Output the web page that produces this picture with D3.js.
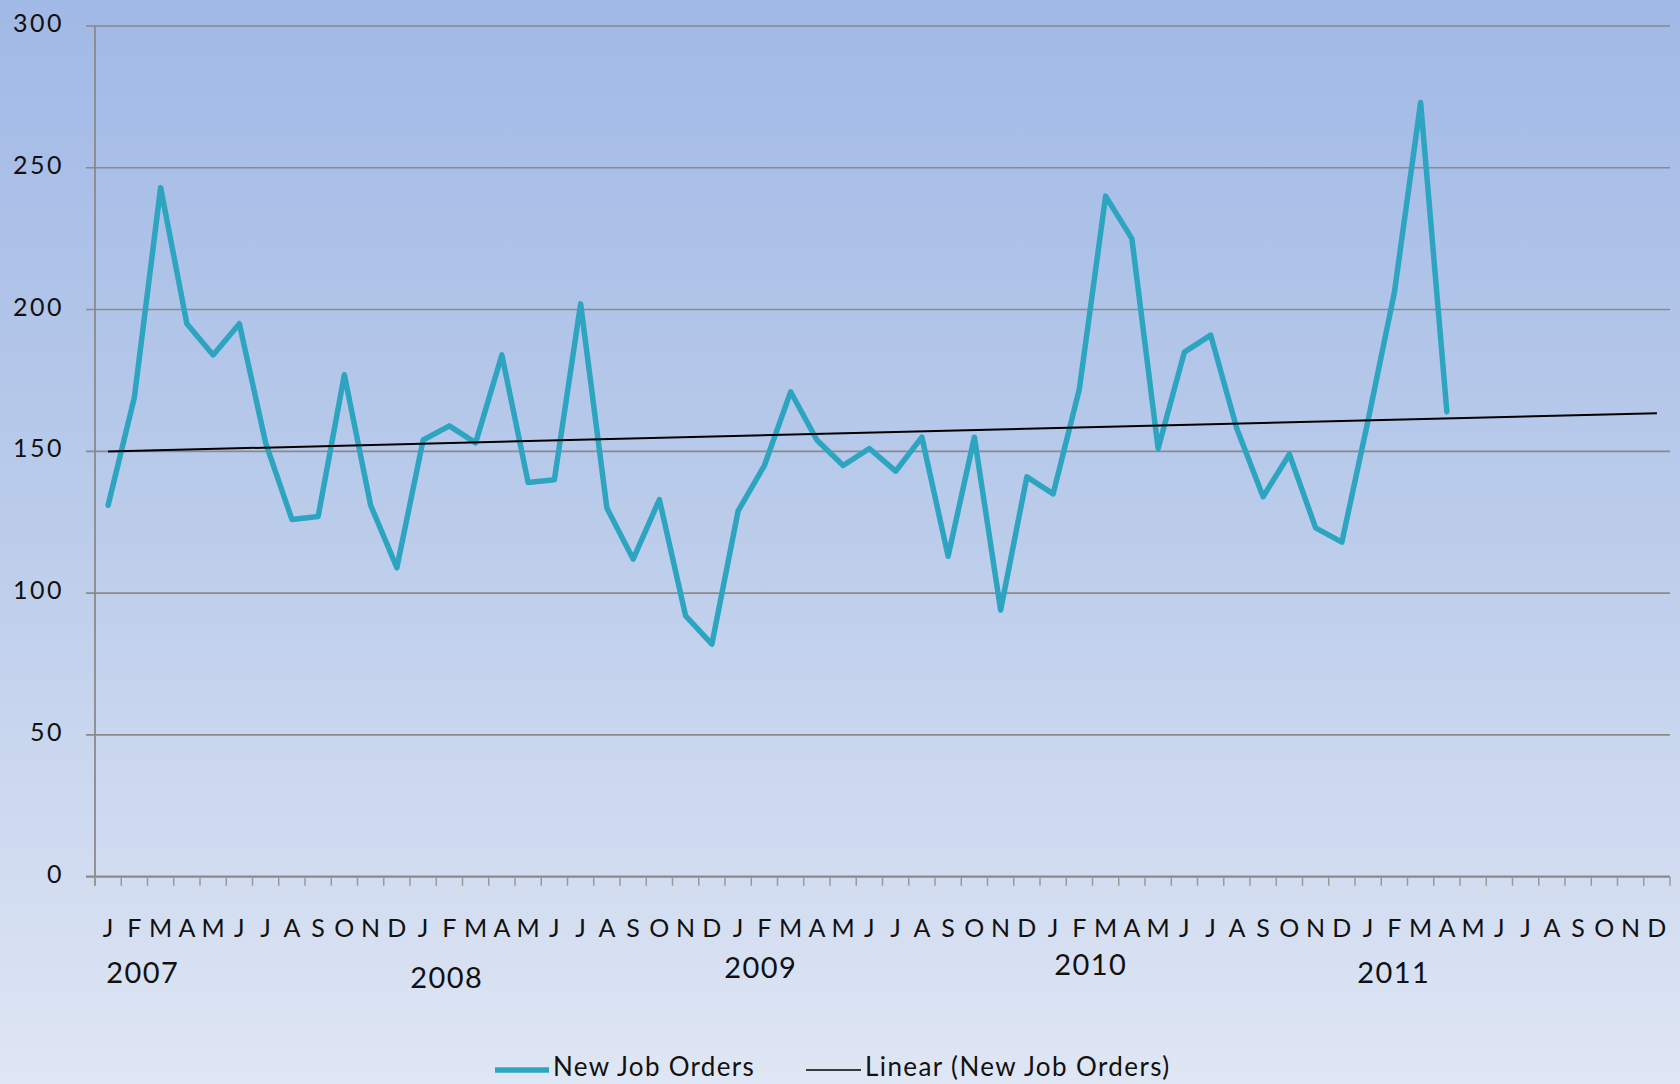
<!DOCTYPE html>
<html>
<head>
<meta charset="utf-8">
<script src="https://cdn.jsdelivr.net/npm/d3@7"></script>
<style>
  html, body { margin: 0; padding: 0; }
  svg { display: block; font-family: Lato, "Open Sans", sans-serif; }
</style>
</head>
<body>
<script>
// chart data
const monthLetters = ["J","F","M","A","M","J","J","A","S","O","N","D"];
const years = ["2007","2008","2009","2010","2011"];
const newJobOrders = [
  131,169,243,195,184,195,153,126,127,177,131,109,   // 2007
  154,159,153,184,139,140,202,130,112,133,92,82,     // 2008
  129,145,171,154,145,151,143,155,113,155,94,141,    // 2009
  135,172,240,225,151,185,191,158,134,149,123,118,   // 2010
  161,206,273,164                                    // 2011 (Jan-Apr)
];
const yTicks = [0, 50, 100, 150, 200, 250, 300];
const seriesName = "New Job Orders";
const trendName = "Linear (New Job Orders)";

// year labels sit a bit loose, like text boxes dropped by hand
const yearNudge = [[-2, 983], [-13, 988], [-14, 978], [1, 975], [-11, 983]];

const w = 1680;
const h = 1084;

const svg = d3.select("body")
  .append("svg")
  .attr("width", w)
  .attr("height", h);

// background gradient
const grad = svg.append("defs").append("linearGradient")
  .attr("id", "bg")
  .attr("x1", 0).attr("y1", 0).attr("x2", 0).attr("y2", 1);
grad.append("stop").attr("offset", "0%").attr("stop-color", "#a1b9e6");
grad.append("stop").attr("offset", "50%").attr("stop-color", "#bccdeb");
grad.append("stop").attr("offset", "100%").attr("stop-color", "#dfe6f4");
svg.append("rect").attr("width", w).attr("height", h).attr("fill", "url(#bg)");

const categories = d3.range(years.length * 12);

const x = d3.scaleBand()
  .domain(categories)
  .range([95, 1670]);

const y = d3.scaleLinear()
  .domain([0, 300])
  .range([876.7, 26]);

const cx = i => x(i) + x.bandwidth() / 2;

// horizontal gridlines + y labels
svg.selectAll("line.grid")
  .data(yTicks)
  .enter()
  .append("line")
  .attr("class", "grid")
  .attr("x1", 86)
  .attr("x2", 1670)
  .attr("y1", d => y(d))
  .attr("y2", d => y(d))
  .attr("stroke", "#8a8a8a")
  .attr("stroke-width", d => d === 0 ? 2.2 : 1.6);

svg.selectAll("text.ylab")
  .data(yTicks)
  .enter()
  .append("text")
  .attr("class", "ylab")
  .attr("x", 64)
  .attr("y", d => y(d) + 6)
  .attr("text-anchor", "end")
  .attr("font-size", "25px")
  .attr("letter-spacing", "2.5px")
  .attr("fill", "#111")
  .text(d => d);

// y axis line
svg.append("line")
  .attr("x1", 95).attr("x2", 95)
  .attr("y1", y(300)).attr("y2", y(0) + 9)
  .attr("stroke", "#8a8a8a")
  .attr("stroke-width", 1.8);

// x axis ticks at category boundaries
svg.selectAll("line.xtick")
  .data(d3.range(categories.length + 1))
  .enter()
  .append("line")
  .attr("class", "xtick")
  .attr("x1", d => x.range()[0] + d * x.bandwidth())
  .attr("x2", d => x.range()[0] + d * x.bandwidth())
  .attr("y1", y(0))
  .attr("y2", y(0) + 9)
  .attr("stroke", "#999")
  .attr("stroke-width", 1.5);

// month letters
svg.selectAll("text.month")
  .data(categories)
  .enter()
  .append("text")
  .attr("class", "month")
  .attr("x", d => cx(d))
  .attr("y", 937)
  .attr("text-anchor", "middle")
  .attr("font-size", "25px")
  .attr("fill", "#111")
  .text(d => monthLetters[d % 12]);

// year labels
svg.selectAll("text.year")
  .data(years)
  .enter()
  .append("text")
  .attr("class", "year")
  .attr("x", (d, i) => cx(i * 12) + yearNudge[i][0])
  .attr("y", (d, i) => yearNudge[i][1])
  .attr("font-size", "29px")
  .attr("letter-spacing", "1.5px")
  .attr("fill", "#111")
  .text(d => d);

// linear trend (least squares on the observed months, drawn across the axis)
const n = newJobOrders.length;
const mx = d3.mean(d3.range(n));
const my = d3.mean(newJobOrders);
const slope = d3.sum(newJobOrders, (v, i) => (i - mx) * (v - my)) /
              d3.sum(d3.range(n), i => (i - mx) * (i - mx));
const icept = my - slope * mx;
const trend = [0, categories.length - 1].map(i => [i, icept + slope * i]);

// series line
const line = d3.line()
  .x((d, i) => cx(i))
  .y(d => y(d));

svg.append("path")
  .datum(newJobOrders)
  .attr("d", line)
  .attr("fill", "none")
  .attr("stroke", "#2ea5c0")
  .attr("stroke-width", 5.5)
  .attr("stroke-linejoin", "round")
  .attr("stroke-linecap", "round");

svg.append("path")
  .datum(trend)
  .attr("d", d3.line().x(d => cx(d[0])).y(d => y(d[1])))
  .attr("fill", "none")
  .attr("stroke", "#000")
  .attr("stroke-width", 2);

// legend
const legend = svg.append("g");
legend.append("line")
  .attr("x1", 495).attr("x2", 549)
  .attr("y1", 1070).attr("y2", 1070)
  .attr("stroke", "#2ea5c0")
  .attr("stroke-width", 5.5);
legend.append("text")
  .attr("x", 553).attr("y", 1076)
  .attr("font-size", "26px")
  .attr("letter-spacing", "1.3px")
  .attr("fill", "#111")
  .text(seriesName);
legend.append("line")
  .attr("x1", 806).attr("x2", 861)
  .attr("y1", 1070).attr("y2", 1070)
  .attr("stroke", "#000")
  .attr("stroke-width", 1.5);
legend.append("text")
  .attr("x", 865).attr("y", 1076)
  .attr("font-size", "26px")
  .attr("letter-spacing", "1.4px")
  .attr("fill", "#111")
  .text(trendName);
</script>
</body>
</html>
